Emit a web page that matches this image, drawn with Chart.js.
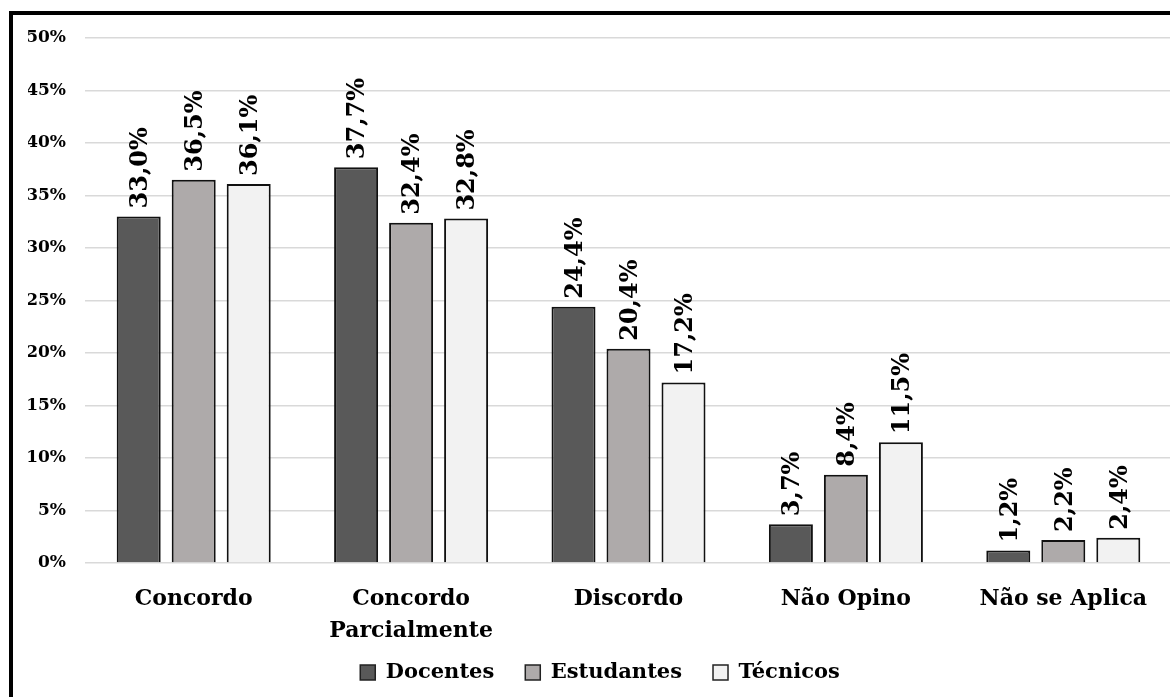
<!DOCTYPE html>
<html>
<head>
<meta charset="utf-8">
<script src="https://cdn.jsdelivr.net/npm/chart.js@4.4.0/dist/chart.umd.min.js"></script>
<style>
  html, body { margin: 0; padding: 0; background: #fff; overflow: hidden; width: 1170px; height: 697px; }
  #frame { position: absolute; left: 9px; top: 11px; width: 1300px; height: 900px; border: 4px solid #000; box-sizing: border-box; }
  #c { position: absolute; left: 0; top: 0; }
</style>
</head>
<body>
<div id="frame"></div>
<canvas id="c" width="1176" height="697"></canvas>
<script>
const categories = [["Concordo"], ["Concordo", "Parcialmente"], ["Discordo"], ["Não Opino"], ["Não se Aplica"]];
const seriesNames = ["Docentes", "Estudantes", "Técnicos"];
const docentes = [33.0, 37.7, 24.4, 3.7, 1.2];
const estudantes = [36.5, 32.4, 20.4, 8.4, 2.2];
const tecnicos = [36.1, 32.8, 17.2, 11.5, 2.4];
const yTicks = [0, 5, 10, 15, 20, 25, 30, 35, 40, 45, 50];

const FONT = "'DejaVu Serif', serif";
const colors = ["#595959", "#aeaaaa", "#f2f2f2"];

const fmt = v => v.toFixed(1).replace('.', ',') + '%';

const labelPlugin = {
  id: 'barLabels',
  afterDatasetsDraw(chart) {
    const ctx = chart.ctx;
    ctx.save();
    ctx.font = "bold 24px " + FONT;
    ctx.fillStyle = "#000";
    ctx.textAlign = "left";
    ctx.textBaseline = "middle";
    chart.data.datasets.forEach((ds, di) => {
      chart.getDatasetMeta(di).data.forEach((bar, i) => {
        ctx.save();
        ctx.translate(bar.x + 2, bar.y - 8);
        ctx.rotate(-Math.PI / 2);
        ctx.fillText(fmt(ds.data[i]), 0, 0);
        ctx.restore();
      });
    });
    ctx.restore();
  }
};

new Chart(document.getElementById('c'), {
  type: 'bar',
  data: {
    labels: categories,
    datasets: [
      { label: seriesNames[0], data: docentes, backgroundColor: colors[0] },
      { label: seriesNames[1], data: estudantes, backgroundColor: colors[1] },
      { label: seriesNames[2], data: tecnicos, backgroundColor: colors[2] }
    ].map(d => Object.assign(d, { borderColor: "#111", borderWidth: 2, categoryPercentage: 0.759, barPercentage: 0.8 }))
  },
  options: {
    responsive: false,
    animation: false,
    devicePixelRatio: 1,
    layout: { padding: { left: 28, right: 4, top: 38, bottom: 4 } },
    plugins: {
      tooltip: { enabled: false },
      legend: {
        position: 'bottom',
        labels: {
          color: "#000",
          font: { family: FONT, size: 21, weight: 'bold' },
          boxWidth: 15,
          boxHeight: 15,
          padding: 10,
          generateLabels(chart) {
            const n = chart.data.datasets.length;
            return chart.data.datasets.map((ds, i) => ({
              text: ds.label + (i < n - 1 ? '\u2003' : ''), fillStyle: ds.backgroundColor, strokeStyle: "#222", lineWidth: 1.5, datasetIndex: i, fontColor: "#000"
            }));
          }
        }
      }
    },
    scales: {
      x: {
        grid: { display: false, drawTicks: false },
        border: { display: false },
        ticks: { color: "#000", font: { family: FONT, size: 22, weight: 'bold', lineHeight: 1.45 }, padding: 20, maxRotation: 0, autoSkip: false },
        afterFit(s) { s.height = 89; }
      },
      y: {
        min: 0, max: 50,
        afterBuildTicks(s) { s.ticks = yTicks.map(v => ({ value: v })); },
        grid: { color: "#d9d9d9", lineWidth: 1.5, drawTicks: false },
        border: { display: false },
        ticks: { color: "#000", font: { family: FONT, size: 17, weight: 'bold' }, padding: 19, callback: v => v + '%' },
        afterFit(s) { s.width = 57; }
      }
    }
  },
  plugins: [labelPlugin]
});
</script>
</body>
</html>
